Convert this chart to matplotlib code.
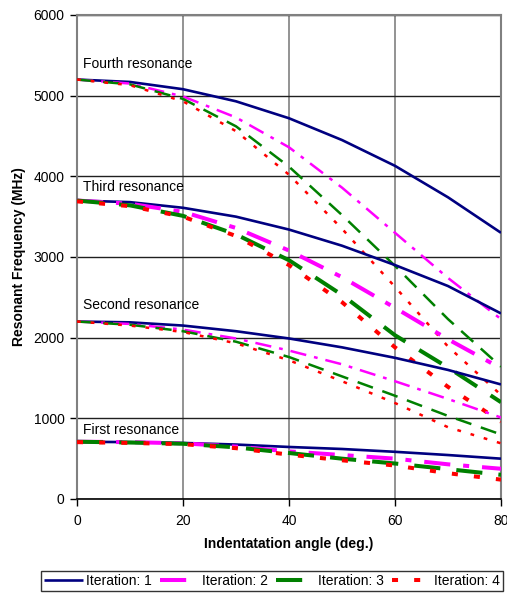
import numpy as np
import matplotlib.pyplot as plt

plt.rcParams["font.family"] = ["Liberation Sans", "DejaVu Sans"]

angle = [0, 10, 20, 30, 40, 50, 60, 70, 80]

# resonant frequency (MHz) per resonance, per iteration
fourth = {
    1: [5200, 5170, 5080, 4930, 4720, 4450, 4130, 3740, 3300],
    2: [5200, 5150, 4990, 4730, 4360, 3860, 3300, 2740, 2230],
    3: [5200, 5140, 4960, 4620, 4120, 3520, 2890, 2230, 1640],
    4: [5200, 5130, 4930, 4560, 4020, 3350, 2630, 1890, 1290],
}
third = {
    1: [3700, 3680, 3610, 3500, 3340, 3140, 2900, 2640, 2300],
    2: [3700, 3660, 3560, 3360, 3080, 2750, 2370, 1980, 1620],
    3: [3700, 3640, 3510, 3280, 2960, 2530, 2030, 1630, 1200],
    4: [3690, 3630, 3500, 3260, 2900, 2440, 1880, 1390, 960],
}
second = {
    1: [2200, 2190, 2150, 2080, 1990, 1880, 1750, 1600, 1420],
    2: [2200, 2170, 2100, 1990, 1840, 1670, 1460, 1240, 1010],
    3: [2200, 2160, 2080, 1950, 1760, 1520, 1280, 1030, 800],
    4: [2200, 2150, 2070, 1930, 1720, 1460, 1190, 890, 690],
}
first = {
    1: [710, 705, 695, 675, 645, 620, 585, 545, 500],
    2: [710, 705, 690, 650, 590, 545, 500, 430, 375],
    3: [710, 700, 685, 640, 570, 500, 440, 370, 300],
    4: [705, 695, 680, 630, 550, 480, 415, 320, 240],
}
labels = ["Fourth resonance", "Third resonance", "Second resonance", "First resonance"]
label_pos = [5390, 3870, 2400, 850]

colors = {1: "#000080", 2: "#FF00FF", 3: "#008000", 4: "#FF0000"}
dashes = {2: (6.5, 3.2, 1.5, 3.2), 3: (6.5, 4.0), 4: (1.5, 4.0)}

fig = plt.figure(figsize=(5.07, 5.95), dpi=100)
ax = fig.add_axes([77 / 507, 1 - 499 / 595, 424 / 507, 484 / 595])

handles = []
for group, thick in [(fourth, False), (third, True), (second, False), (first, True)]:
    for it in (1, 2, 3, 4):
        if it == 1:
            (ln,) = ax.plot(angle, group[it], color=colors[it], lw=1.9,
                            solid_capstyle="butt", zorder=3)
        else:
            lw = 2.9 if thick else 1.8
            (ln,) = ax.plot(angle, group[it], color=colors[it], lw=lw,
                            dashes=dashes[it], zorder=3)
        if group is third:
            handles.append(ln)

for txt, yv in zip(labels, label_pos):
    ax.text(1.1, yv, txt, fontsize=10, ha="left", va="center")

ax.set_xlim(0, 80)
ax.set_ylim(0, 6000)
ax.set_xticks([0, 20, 40, 60, 80])
ax.set_yticks(range(0, 6001, 1000))
ax.xaxis.grid(True, color="#808080", lw=1.2)
ax.yaxis.grid(True, color="#202020", lw=1.0)
ax.set_axisbelow(True)
for s in ("left", "top", "right"):
    ax.spines[s].set_color("#808080")
    ax.spines[s].set_linewidth(1.5)
ax.spines["bottom"].set_color("black")
ax.spines["bottom"].set_linewidth(1.2)
ax.tick_params(axis="both", labelsize=10, length=5, width=1, direction="out", pad=4)
ax.tick_params(axis="x", pad=6)

ax.set_xlabel("Indentatation angle (deg.)", fontsize=10, fontweight="bold", labelpad=6)
ax.set_ylabel("Resonant Frequency (MHz)", fontsize=10, fontweight="bold", labelpad=5)

leg = fig.legend(handles, ["Iteration: 1", "Iteration: 2", "Iteration: 3", "Iteration: 4"],
                 loc="center", bbox_to_anchor=(272 / 507, 1 - 581 / 595), ncol=4,
                 fontsize=10, frameon=True, fancybox=False, edgecolor="black",
                 handlelength=2.8, handletextpad=0.2, columnspacing=0.6,
                 borderpad=0.25, borderaxespad=0)
leg.get_frame().set_linewidth(1.0)

fig.savefig("out.png", dpi=100)
